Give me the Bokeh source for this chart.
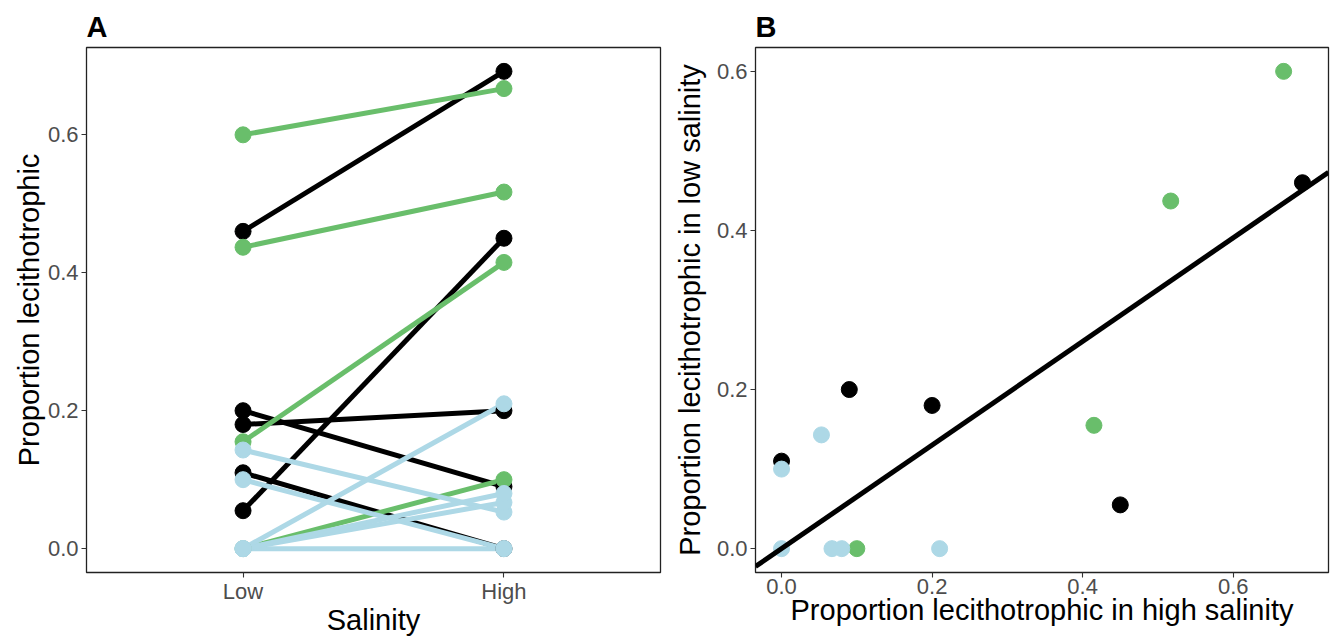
from bokeh.plotting import figure
from bokeh.layouts import row
from bokeh.models import Range1d, FixedTicker, PrintfTickFormatter
from bokeh.embed import file_html
from bokeh.resources import INLINE
import numpy as np

# ---------------- data ----------------
salinity = ["Low", "High"]
black_low = [0.46, 0.055, 0.20, 0.18, 0.11]
black_high = [0.692, 0.45, 0.09, 0.20, 0.0]
green_low = [0.60, 0.437, 0.155, 0.0]
green_high = [0.667, 0.517, 0.415, 0.10]
blue_low = [0.10, 0.143, 0.0, 0.0, 0.0, 0.0]
blue_high = [0.0, 0.053, 0.0, 0.067, 0.08, 0.21]
y_ticks = [0.0, 0.2, 0.4, 0.6]
x_ticks_b = [0.0, 0.2, 0.4, 0.6]

BLACK = "#000000"
GREEN = "#69BE6B"
BLUE = "#ADD8E6"
groups = [(black_low, black_high, BLACK), (green_low, green_high, GREEN), (blue_low, blue_high, BLUE)]

FONT = "Liberation Sans"
TICK_SIZE = "22px"
TITLE_SIZE = "29px"


def style(p, xlabel, ylabel, title, ylab_standoff):
    p.title.text = title
    p.title.align = "left"
    p.title.text_font = FONT
    p.title.text_font_size = "29px"
    p.title.text_font_style = "bold"
    p.title.text_color = "#000000"
    p.title.standoff = 10
    p.xgrid.visible = False
    p.ygrid.visible = False
    p.outline_line_color = "#222222"
    p.outline_line_width = 1.3
    p.background_fill_color = "white"
    p.border_fill_color = "white"
    for ax in (p.xaxis[0], p.yaxis[0]):
        ax.axis_line_color = None
        ax.major_tick_line_color = "#333333"
        ax.major_tick_line_width = 1.1
        ax.major_tick_in = 0
        ax.major_tick_out = 5
        ax.minor_tick_line_color = None
        ax.major_label_text_font = FONT
        ax.major_label_text_font_size = TICK_SIZE
        ax.major_label_text_color = "#4D4D4D"
        ax.major_label_standoff = 3
        ax.axis_label_text_font = FONT
        ax.axis_label_text_font_size = TITLE_SIZE
        ax.axis_label_text_font_style = "normal"
        ax.axis_label_text_color = "#000000"
    p.xaxis.axis_label = xlabel
    p.yaxis.axis_label = ylabel
    p.xaxis.major_label_standoff = 1
    p.xaxis.axis_label_standoff = -3
    p.yaxis.axis_label_standoff = ylab_standoff


def expand(vals, frac=0.05):
    lo, hi = min(vals), max(vals)
    d = (hi - lo) * frac
    return lo - d, hi + d

# ---------------- panel A ----------------
all_a = black_low + black_high + green_low + green_high + blue_low + blue_high
ya0, ya1 = expand(all_a)
pos = {s: i + 1 for i, s in enumerate(salinity)}

pA = figure(width=670, height=638, output_backend="svg", toolbar_location=None,
            x_range=Range1d(0.4, 2.6), y_range=Range1d(ya0, ya1),
            min_border_left=86, min_border_right=10, min_border_top=47, min_border_bottom=66)
style(pA, "Salinity", "Proportion lecithotrophic", "A", 0)
pA.xaxis.ticker = FixedTicker(ticks=[pos[s] for s in salinity])
pA.xaxis.major_label_overrides = {pos[s]: s for s in salinity}
pA.yaxis.ticker = FixedTicker(ticks=y_ticks)
pA.yaxis.formatter = PrintfTickFormatter(format="%.1f")

for lo, hi, col in groups:
    n = len(lo)
    pA.segment(x0=[pos["Low"]] * n, y0=lo, x1=[pos["High"]] * n, y1=hi,
               line_color=col, line_width=5)
for lo, hi, col in groups:
    n = len(lo)
    pA.scatter(x=[pos["Low"]] * n + [pos["High"]] * n, y=lo + hi, size=16,
               fill_color=col, line_color=col)

# ---------------- panel B ----------------
all_high = black_high + green_high + blue_high
all_low = black_low + green_low + blue_low
xb0, xb1 = expand(all_high)
yb0, yb1 = expand(all_low)

pB = figure(width=667, height=638, output_backend="svg", toolbar_location=None,
            x_range=Range1d(xb0, xb1), y_range=Range1d(yb0, yb1),
            min_border_left=85, min_border_right=9, min_border_top=47, min_border_bottom=66)
style(pB, "Proportion lecithotrophic in high salinity", "Proportion lecithotrophic in low salinity", "B", 8)
pB.xaxis.ticker = FixedTicker(ticks=x_ticks_b)
pB.yaxis.ticker = FixedTicker(ticks=y_ticks)
pB.xaxis.formatter = PrintfTickFormatter(format="%.1f")
pB.yaxis.formatter = PrintfTickFormatter(format="%.1f")

for lo, hi, col in groups:
    pB.scatter(x=hi, y=lo, size=16, fill_color=col, line_color=col)

# regression through the origin: low = b * high
xh = np.array(all_high)
yl = np.array(all_low)
slope = float((xh * yl).sum() / (xh * xh).sum())
lx = np.array([xb0, xb1])
pB.line(x=lx, y=slope * lx, line_color="#000000", line_width=5)

layout = row(pA, pB)
open("out.html", "w").write(file_html(layout, INLINE))
